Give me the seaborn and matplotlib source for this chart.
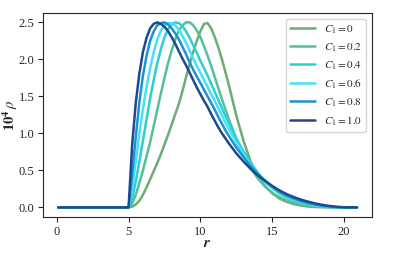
import numpy as np
import pandas as pd
import matplotlib
matplotlib.use('Agg')
import matplotlib.pyplot as plt
import seaborn as sns

# radial grid and density curves
r = [0.1, 5.0, 5.25, 5.5, 5.75, 6.0, 6.25, 6.5, 6.75, 7.0, 7.25, 7.5, 7.75, 8.0, 8.25,
     8.5, 8.75, 9.0, 9.25, 9.5, 9.75, 10.0, 10.25, 10.5, 10.75, 11.0, 11.25, 11.5,
     11.75, 12.0, 12.5, 13.0, 13.5, 14.0, 14.5, 15.0, 15.5, 16.0, 16.5, 17.0, 17.5,
     18.0, 18.5, 19.0, 19.5, 20.0, 20.5, 20.9]

rho_c0 = [0, 0, 0.01, 0.04, 0.09, 0.17, 0.27, 0.38, 0.49, 0.60, 0.72, 0.85, 0.98, 1.12, 1.26,
          1.40, 1.57, 1.76, 1.93, 2.10, 2.25, 2.38, 2.48, 2.49, 2.42, 2.30, 2.16, 2.00,
          1.82, 1.64, 1.24, 0.90, 0.62, 0.42, 0.29, 0.19, 0.12, 0.075, 0.045, 0.025, 0.012,
          0.005, 0.002, 0, 0, 0, 0, 0]
rho_c02 = [0, 0, 0.05, 0.17, 0.33, 0.50, 0.69, 0.88, 1.10, 1.32, 1.54, 1.75, 1.95, 2.12, 2.27,
           2.39, 2.46, 2.50, 2.50, 2.46, 2.39, 2.30, 2.18, 2.05, 1.91, 1.76, 1.61, 1.46,
           1.32, 1.18, 0.93, 0.71, 0.53, 0.39, 0.28, 0.20, 0.14, 0.095, 0.063, 0.04, 0.025,
           0.015, 0.008, 0.004, 0.001, 0, 0, 0]
rho_c04 = [0, 0, 0.12, 0.35, 0.62, 0.90, 1.19, 1.47, 1.72, 1.95, 2.14, 2.30, 2.41, 2.47, 2.50,
           2.49, 2.45, 2.38, 2.29, 2.19, 2.09, 1.98, 1.88, 1.78, 1.67, 1.56, 1.45, 1.34,
           1.23, 1.13, 0.93, 0.76, 0.60, 0.47, 0.35, 0.26, 0.19, 0.135, 0.095, 0.065, 0.042,
           0.026, 0.015, 0.007, 0.002, 0, 0, 0]
rho_c06 = [0, 0, 0.25, 0.62, 1.00, 1.33, 1.63, 1.88, 2.10, 2.27, 2.39, 2.46, 2.49, 2.49, 2.46,
           2.40, 2.32, 2.22, 2.12, 2.01, 1.91, 1.82, 1.72, 1.63, 1.53, 1.44, 1.34, 1.24,
           1.14, 1.05, 0.88, 0.72, 0.58, 0.46, 0.35, 0.27, 0.20, 0.15, 0.105, 0.073, 0.048,
           0.03, 0.017, 0.008, 0.003, 0, 0, 0]
rho_c08 = [0, 0, 0.45, 0.95, 1.42, 1.78, 2.05, 2.25, 2.38, 2.46, 2.49, 2.50, 2.47, 2.42, 2.35,
           2.27, 2.17, 2.07, 1.96, 1.86, 1.77, 1.68, 1.59, 1.50, 1.41, 1.32, 1.22, 1.13,
           1.04, 0.96, 0.81, 0.68, 0.56, 0.45, 0.36, 0.28, 0.21, 0.16, 0.12, 0.085, 0.058,
           0.038, 0.022, 0.011, 0.004, 0, 0, 0]
rho_c10 = [0, 0, 0.85, 1.41, 1.81, 2.10, 2.29, 2.42, 2.48, 2.50, 2.48, 2.44, 2.38, 2.30, 2.21,
           2.11, 2.01, 1.92, 1.82, 1.72, 1.62, 1.53, 1.44, 1.36, 1.26, 1.17, 1.08, 1.00,
           0.93, 0.86, 0.73, 0.62, 0.52, 0.43, 0.36, 0.29, 0.23, 0.18, 0.14, 0.105, 0.077,
           0.053, 0.034, 0.019, 0.008, 0.002, 0, 0]

labels = ['$C_1=0$', '$C_1=0.2$', '$C_1=0.4$', '$C_1=0.6$', '$C_1=0.8$', '$C_1=1.0$']
colors = ['#6aae72', '#52c09c', '#2ecfcf', '#45e0fa', '#1c92d2', '#1b4a8e']
series = [rho_c0, rho_c02, rho_c04, rho_c06, rho_c08, rho_c10]

sns.set_style('ticks')
plt.rcParams['font.family'] = ['Liberation Serif', 'DejaVu Serif']
plt.rcParams['mathtext.fontset'] = 'stix'

fig, ax = plt.subplots(figsize=(4.16, 2.57), dpi=100)
fig.subplots_adjust(left=0.104, right=0.894, top=0.949, bottom=0.157)

for vals, lab, col in zip(series, labels, colors):
    sns.lineplot(x=r, y=vals, color=col, label=lab, lw=1.8, ax=ax)

ax.set_xticks([0, 5, 10, 15, 20])
ax.set_yticks([0.0, 0.5, 1.0, 1.5, 2.0, 2.5])
ax.tick_params(labelsize=9, pad=3)
ax.set_xlabel('$\\boldsymbol{r}$', fontsize=11)
ax.set_ylabel('$\\mathbf{10^4}\\,\\rho$', fontsize=10.5)
ax.yaxis.set_label_coords(-0.072, 0.5)
ax.xaxis.set_label_coords(0.5, -0.1)
ax.legend(loc='upper right', fontsize=8, handlelength=2.2, labelspacing=0.5)

fig.savefig('out.png', dpi=100)
